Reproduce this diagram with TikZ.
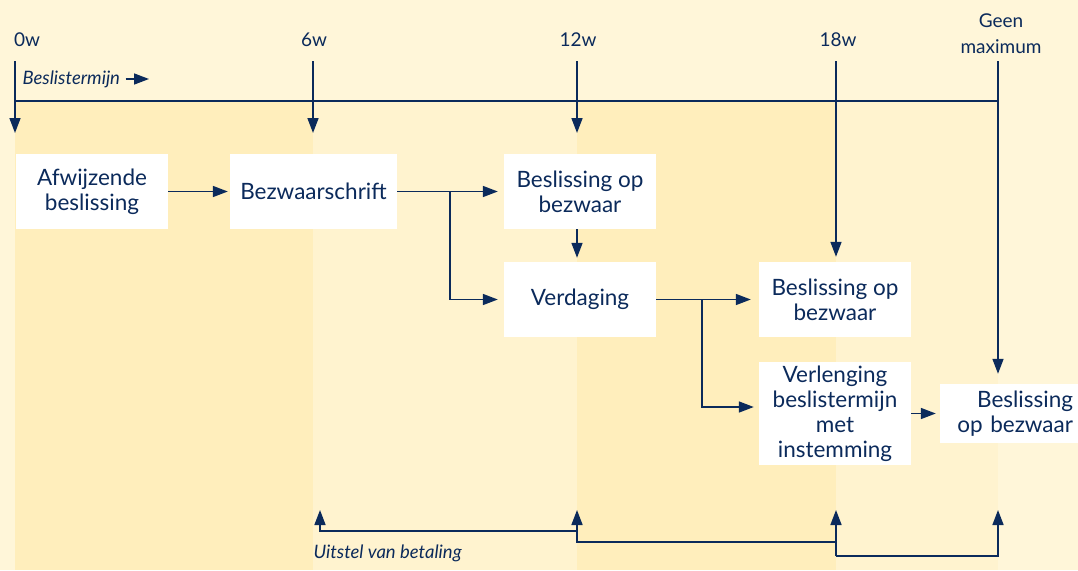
\documentclass[tikz,border=0pt]{standalone}
\usepackage{fontspec}
\setmainfont{Lato}
\usetikzlibrary{arrows.meta}

\definecolor{navy}{HTML}{0B2A5B}
\definecolor{bgtop}{HTML}{FFF6D9}
\definecolor{banddark}{HTML}{FFEEBC}
\definecolor{bandmid}{HTML}{FFF3CF}

\begin{document}
\begin{tikzpicture}[x=1pt,y=-1pt,>={Triangle[length=15pt,width=11pt]}]

\tikzset{box/.style={fill=white,text=navy,align=center,inner sep=0pt,
  minimum width=152pt,minimum height=75pt,font=\fontsize{22.5}{25}\selectfont}}
\tikzset{week/.style={text=navy,align=center,font=\fontsize{19}{26}\selectfont}}
\tikzset{note/.style={text=navy,anchor=west,font=\fontsize{18.5}{20}\selectfont\itshape}}
\tikzset{flow/.style={draw=navy,line width=1.6pt}}

\useasboundingbox (0,0) rectangle (1078,570);

%background bands
\fill[bgtop] (0,0) rectangle (1078,570);
\fill[banddark] (15,101) rectangle (313,570);
\fill[bandmid] (313,101) rectangle (577,570);
\fill[banddark] (577,101) rectangle (836,570);
\fill[bandmid] (836,101) rectangle (998,570);

%week labels
\node[week] (l0) at (27,40) {0w};
\node[week] (l6) at (314,40) {6w};
\node[week] (l12) at (578,40) {12w};
\node[week] (l18) at (838,40) {18w};
\node[week] (lG) at (1001,34) {Geen\\maximum};

\coordinate (t0) at (15,61);
\coordinate (t6) at (313,61);
\coordinate (t12) at (577,61);
\coordinate (t18) at (836,61);
\coordinate (tG) at (998,61);

%beslistermijn
\node[note] (blabel) at (19,79) {Beslistermijn};
\draw[flow,->] ([xshift=2pt]blabel.east) -- (149,79);
\draw[flow] (t0 |- 0,101) -- (tG |- 0,101);

%boxes
\node[box] (afw) at (92,191.5) {Afwijzende\\beslissing};
\node[box,minimum width=167pt] (bezw) at (313.5,191.5) {Bezwaarschrift};
\node[box] (bes1) at (580,191.5) {Beslissing op\\bezwaar};
\node[box] (verd) at (580,299.5) {Verdaging};
\node[box] (bes2) at (835,299.5) {Beslissing op\\bezwaar};
\node[box,minimum height=103pt] (verl) at (835,413.5) {Verlenging\\beslistermijn\\met\\instemming};
\node[box,minimum width=141pt,minimum height=59pt,text width=125pt,align=right] (bes3) at (1010.5,413.5) {Beslissing\\op bezwaar};

%week arrows
\draw[flow,->] (t0) -- ++(0,72);
\draw[flow,->] (t6) -- ++(0,72);
\draw[flow,->] (t12) -- ++(0,72);
\draw[flow,->,shorten >=5pt] (t18) -- (t18 |- bes2.north);
\draw[flow,->,shorten >=10pt] (tG) -- (tG |- bes3.north);

%flow
\coordinate (br1) at (450,191.5);
\coordinate (br2) at (702,299.5);
\draw[flow,->,shorten >=2pt] (afw) -- (bezw);
\draw[flow,->,shorten >=6pt] (bezw) -- (bes1);
\draw[flow,->,shorten >=6pt] (br1) |- (verd);
\draw[flow,->,shorten >=4pt] (bes1.south -| t12) -- (verd.north -| t12);
\draw[flow,->,shorten >=8pt] (verd) -- (bes2);
\draw[flow,->,shorten >=5pt] (br2) |- ([yshift=6.5pt]verl.west);
\draw[flow,->,shorten >=4pt] (verl) -- (bes3);

%uitstel van betaling
\coordinate (u6) at (320,510);
\coordinate (u12) at (577,510);
\coordinate (u18) at (836,510);
\coordinate (uG) at (998,510);
\coordinate (p6) at (320,531);
\coordinate (p12) at (577,542);
\coordinate (p18) at (836,556);
\coordinate (pG) at (998,556);
\draw[flow,->] (p12 |- p6) -- (p6) -- (u6);
\draw[flow,->] (p12 -| u18) -- (p12) -- (u12);
\draw[flow,->] (p18) -- (u18);
\draw[flow,->] (p18) -- (pG) -- (uG);
\node[note] (ulabel) at (310,553) {Uitstel van betaling};

\end{tikzpicture}
\end{document}
